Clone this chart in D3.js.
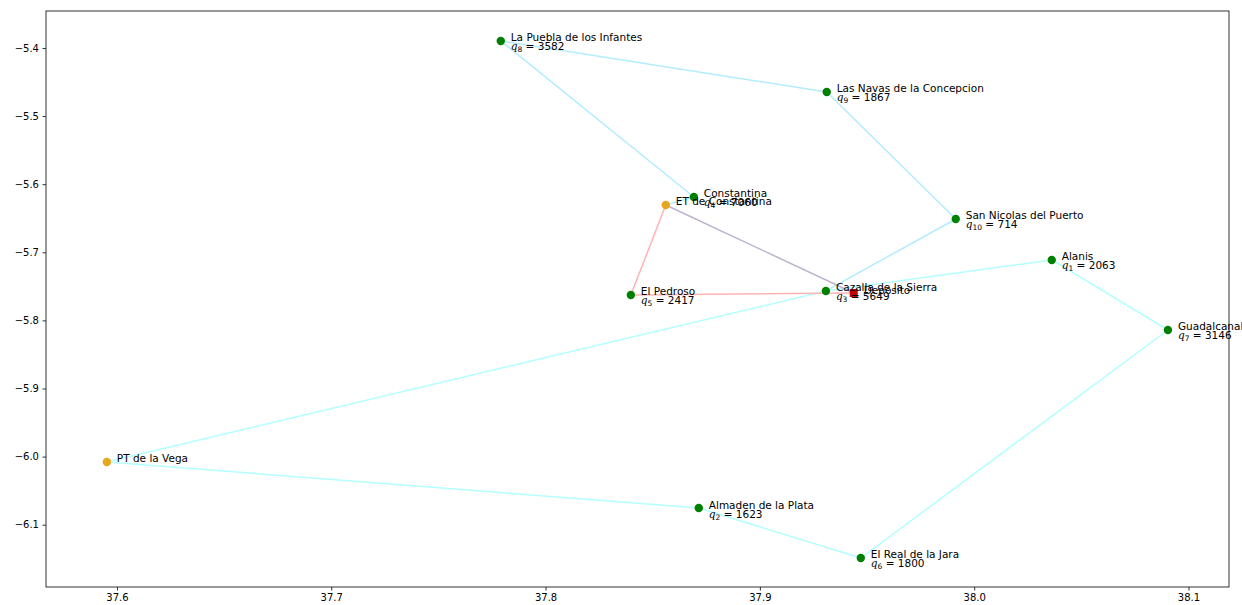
<!DOCTYPE html>
<html>
<head>
<meta charset="utf-8">
<script src="https://cdn.jsdelivr.net/npm/d3@7"></script>
<style>
  html, body { margin: 0; padding: 0; background: #fff; }
  svg text { font-family: "DejaVu Sans", sans-serif; }
</style>
</head>
<body>
<svg id="chart" width="1242" height="605"></svg>
<script>
// Node names, coordinates (lon-like x, lat-like y), kind and demand
const names = [
  "Alanis", "Almaden de la Plata", "Cazalla de la Sierra", "Constantina",
  "El Pedroso", "El Real de la Jara", "Guadalcanal", "La Puebla de los Infantes",
  "Las Navas de la Concepcion", "San Nicolas del Puerto",
  "ET de Constantina", "PT de la Vega", "Deposito"
];
const xs = [38.0362, 37.8715, 37.9308, 37.8692, 37.8398, 37.9471, 38.0904, 37.7791,
            37.9312, 37.9914, 37.8561, 37.5953, 37.9438];
const ys = [-5.7113, -6.0755, -5.7568, -5.6188, -5.7627, -6.1489, -5.8141, -5.3897,
            -5.4646, -5.6511, -5.6305, -6.0079, -5.7598];
const kinds = ["town", "town", "town", "town", "town", "town", "town", "town",
               "town", "town", "station", "station", "depot"];
const qIndex = [1, 2, 3, 4, 5, 6, 7, 8, 9, 10, null, null, null];
const demand = [2063, 1623, 5649, 7060, 2417, 1800, 3146, 3582, 1867, 714, null, null, null];

// Route edges (from, to, route id)
const edgeFrom = ["ET de Constantina", "Constantina", "La Puebla de los Infantes", "Las Navas de la Concepcion", "San Nicolas del Puerto",
                  "PT de la Vega", "Cazalla de la Sierra", "Alanis", "Guadalcanal", "El Real de la Jara", "Almaden de la Plata",
                  "ET de Constantina", "El Pedroso",
                  "ET de Constantina"];
const edgeTo   = ["Constantina", "La Puebla de los Infantes", "Las Navas de la Concepcion", "San Nicolas del Puerto", "Cazalla de la Sierra",
                  "Cazalla de la Sierra", "Alanis", "Guadalcanal", "El Real de la Jara", "Almaden de la Plata", "PT de la Vega",
                  "El Pedroso", "Deposito",
                  "Deposito"];
const edgeRoute = [0, 0, 0, 0, 0, 1, 1, 1, 1, 1, 1, 2, 2, 3];

const xTicks = [37.6, 37.7, 37.8, 37.9, 38.0, 38.1];
const yTicks = [-5.4, -5.5, -5.6, -5.7, -5.8, -5.9, -6.0, -6.1];

const routeColor = ["#b3ecff", "#b3ffff", "#ffb3b3", "#bdb3cf"];
const kindColor = { town: "#008000", station: "#e8a61e", depot: "#c00000" };

const svg = d3.select("#chart");
const mLeft = 46, mRight = 1229, mTop = 11, mBottom = 587;

const x = d3.scaleLinear().domain([37.5669, 38.1189]).range([mLeft, mRight]);
const y = d3.scaleLinear().domain([-5.3457, -6.1915]).range([mTop, mBottom]);

const nodes = names.map((n, i) => ({ name: n, x: xs[i], y: ys[i], kind: kinds[i], q: qIndex[i], d: demand[i] }));
const byName = new Map(nodes.map(d => [d.name, d]));

// axes
const fmt = v => d3.format(".1f")(v).replace("-", "\u2212");
const xAxis = d3.axisBottom(x).tickValues(xTicks).tickFormat(fmt).tickSizeOuter(0).tickSize(3.5).tickPadding(3.5);
const yAxis = d3.axisLeft(y).tickValues(yTicks).tickFormat(fmt).tickSizeOuter(0).tickSize(3.5).tickPadding(3.5);

const gx = svg.append("g").attr("transform", `translate(0,${mBottom})`).call(xAxis);
const gy = svg.append("g").attr("transform", `translate(${mLeft},0)`).call(yAxis);
[gx, gy].forEach(g => {
  g.select(".domain").remove();
  g.selectAll("text").attr("font-size", 10).attr("fill", "#000").attr("font-family", "DejaVu Sans, sans-serif");
  g.selectAll("line").attr("stroke", "#000").attr("stroke-width", 0.8);
});

// edges
const edges = edgeFrom.map((f, i) => ({ a: byName.get(f), b: byName.get(edgeTo[i]), r: edgeRoute[i] }));
svg.append("g").selectAll("line").data(edges).join("line")
  .attr("x1", d => x(d.a.x)).attr("y1", d => y(d.a.y))
  .attr("x2", d => x(d.b.x)).attr("y2", d => y(d.b.y))
  .attr("stroke", d => routeColor[d.r]).attr("stroke-width", 1.5);

// nodes
const gNodes = svg.append("g");
gNodes.selectAll("circle").data(nodes.filter(d => d.kind !== "depot")).join("circle")
  .attr("cx", d => x(d.x)).attr("cy", d => y(d.y)).attr("r", 4.2)
  .attr("fill", d => kindColor[d.kind]);
gNodes.selectAll("rect").data(nodes.filter(d => d.kind === "depot")).join("rect")
  .attr("x", d => x(d.x) - 4).attr("y", d => y(d.y) - 4).attr("width", 8).attr("height", 8)
  .attr("fill", kindColor.depot);

// labels: name, then demand line q_i = value
const lab = svg.append("g").attr("font-size", 10.5).attr("fill", "#000");
nodes.forEach(d => {
  const px = x(d.x) + 10, py = y(d.y);
  lab.append("text").attr("x", px).attr("y", py + 0.5).text(d.name);
  if (d.q !== null) {
    const t = lab.append("text").attr("x", px).attr("y", py + 9.5);
    t.append("tspan").attr("font-style", "italic").attr("font-family", "DejaVu Serif, serif").text("q");
    t.append("tspan").attr("font-size", 7.5).attr("dy", 2).text(d.q);
    t.append("tspan").attr("dy", -2).text(" = " + d.d);
  }
});

// frame
svg.append("rect").attr("x", mLeft).attr("y", mTop).attr("width", mRight - mLeft).attr("height", mBottom - mTop)
  .attr("fill", "none").attr("stroke", "#000").attr("stroke-width", 0.8);
</script>
</body>
</html>
